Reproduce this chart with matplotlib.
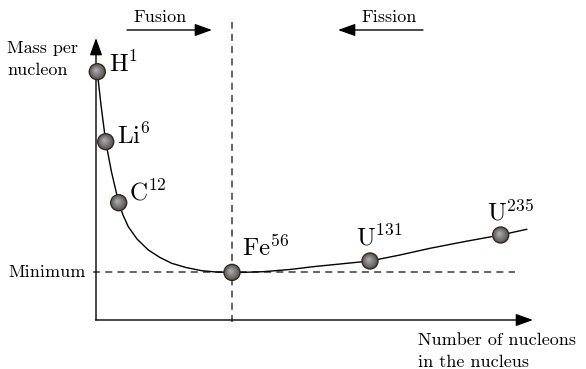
import matplotlib.pyplot as plt
from matplotlib.patches import Circle
import numpy as np

plt.rcParams.update({'font.family': 'cmr10', 'mathtext.fontset': 'cm',
                     'axes.unicode_minus': False})

W, H = 586, 369

# schematic positions: x to the right, y up (pixels of the sketch)
nuclide_labels = [r'$\mathrm{H}^{1}$', r'$\mathrm{Li}^{6}$', r'$\mathrm{C}^{12}$',
                  r'$\mathrm{Fe}^{56}$', r'$\mathrm{U}^{131}$', r'$\mathrm{U}^{235}$']
nuclide_x = [97.3, 105.7, 118.7, 232.0, 370.0, 500.7]
nuclide_y = [297.3, 227.3, 166.3, 96.6, 108.0, 134.0]
label_x = [109, 117, 129, 242, 356, 487]
label_y = [297, 225, 169, 113, 124, 149]

curve_x = [97.3, 101, 105.7, 111.5, 118.7, 123, 128.3, 137, 148.3, 160, 171.7, 186,
           201.7, 216, 232, 245, 263, 290, 313, 340, 370, 400, 430, 465, 500.7, 526.7]
curve_y = [297.3, 264, 227.3, 197, 166.3, 154, 142.3, 130, 119, 111.5, 105.7, 101.5,
           98.3, 97, 96.6, 96.7, 97.3, 99.5, 102.3, 105, 108, 114, 120.7, 127.5, 134, 139.7]

axis_origin = (96, 49)
y_axis_top = 331
x_axis_right = 533
fe_x, minimum_y = 232, 96.6

fig = plt.figure(figsize=(W / 100, H / 100), dpi=100)
ax = fig.add_axes([0, 0, 1, 1])
ax.set_xlim(0, W)
ax.set_ylim(0, H)
ax.axis('off')

arrow = dict(arrowstyle='-|>,head_length=0.75,head_width=0.27', color='black',
             lw=1.0, shrinkA=0, shrinkB=0, mutation_scale=14)

# axes
ax.annotate('', xy=(axis_origin[0], y_axis_top), xytext=axis_origin, arrowprops=arrow)
ax.annotate('', xy=(x_axis_right, axis_origin[1]), xytext=(axis_origin[0] - 0.5, axis_origin[1]),
            arrowprops=arrow)

# dashed guides
ax.plot([fe_x, fe_x], [47, 347], color='#3a3a3a', lw=1.1, ls=(0, (4.6, 3.4)))
ax.plot([93, 515], [minimum_y, minimum_y], color='#3a3a3a', lw=1.1, ls=(0, (4.6, 3.4)))

# fusion / fission arrows
ax.annotate('', xy=(212, 339), xytext=(127, 339), arrowprops=arrow)
ax.annotate('', xy=(338, 339), xytext=(423, 339), arrowprops=arrow)
ax.text(160, 352, 'Fusion', ha='center', va='center', fontsize=13)
ax.text(389, 352, 'Fission', ha='center', va='center', fontsize=13)

# curve
ax.plot(curve_x, curve_y, color='black', lw=1.0, zorder=3)

# shaded balls
for x, y in zip(nuclide_x, nuclide_y):
    ax.add_patch(Circle((x, y), 8, facecolor='#505050', edgecolor='#3a2418', lw=1.0, zorder=4))
    for k in range(1, 9):
        r = 8 * (1 - k / 9)
        off = 1.6 * k / 9
        g = 0.34 + 0.38 * k / 9
        ax.add_patch(Circle((x - off, y + off), r, facecolor=(g, g, g), edgecolor='none', zorder=4))

for lab, x, y in zip(nuclide_labels, label_x, label_y):
    ax.text(x, y, lab, ha='left', va='baseline', fontsize=18)

# axis texts
ax.text(7, 321, 'Mass per', ha='left', va='center', fontsize=13)
ax.text(7, 299, 'nucleon', ha='left', va='center', fontsize=13)
ax.text(86, minimum_y, 'Minimum', ha='right', va='center', fontsize=13)
ax.text(418, 29, 'Number of nucleons', ha='left', va='center', fontsize=13)
ax.text(418, 7, 'in the nucleus', ha='left', va='center', fontsize=13)

fig.savefig('out.png', dpi=100)
